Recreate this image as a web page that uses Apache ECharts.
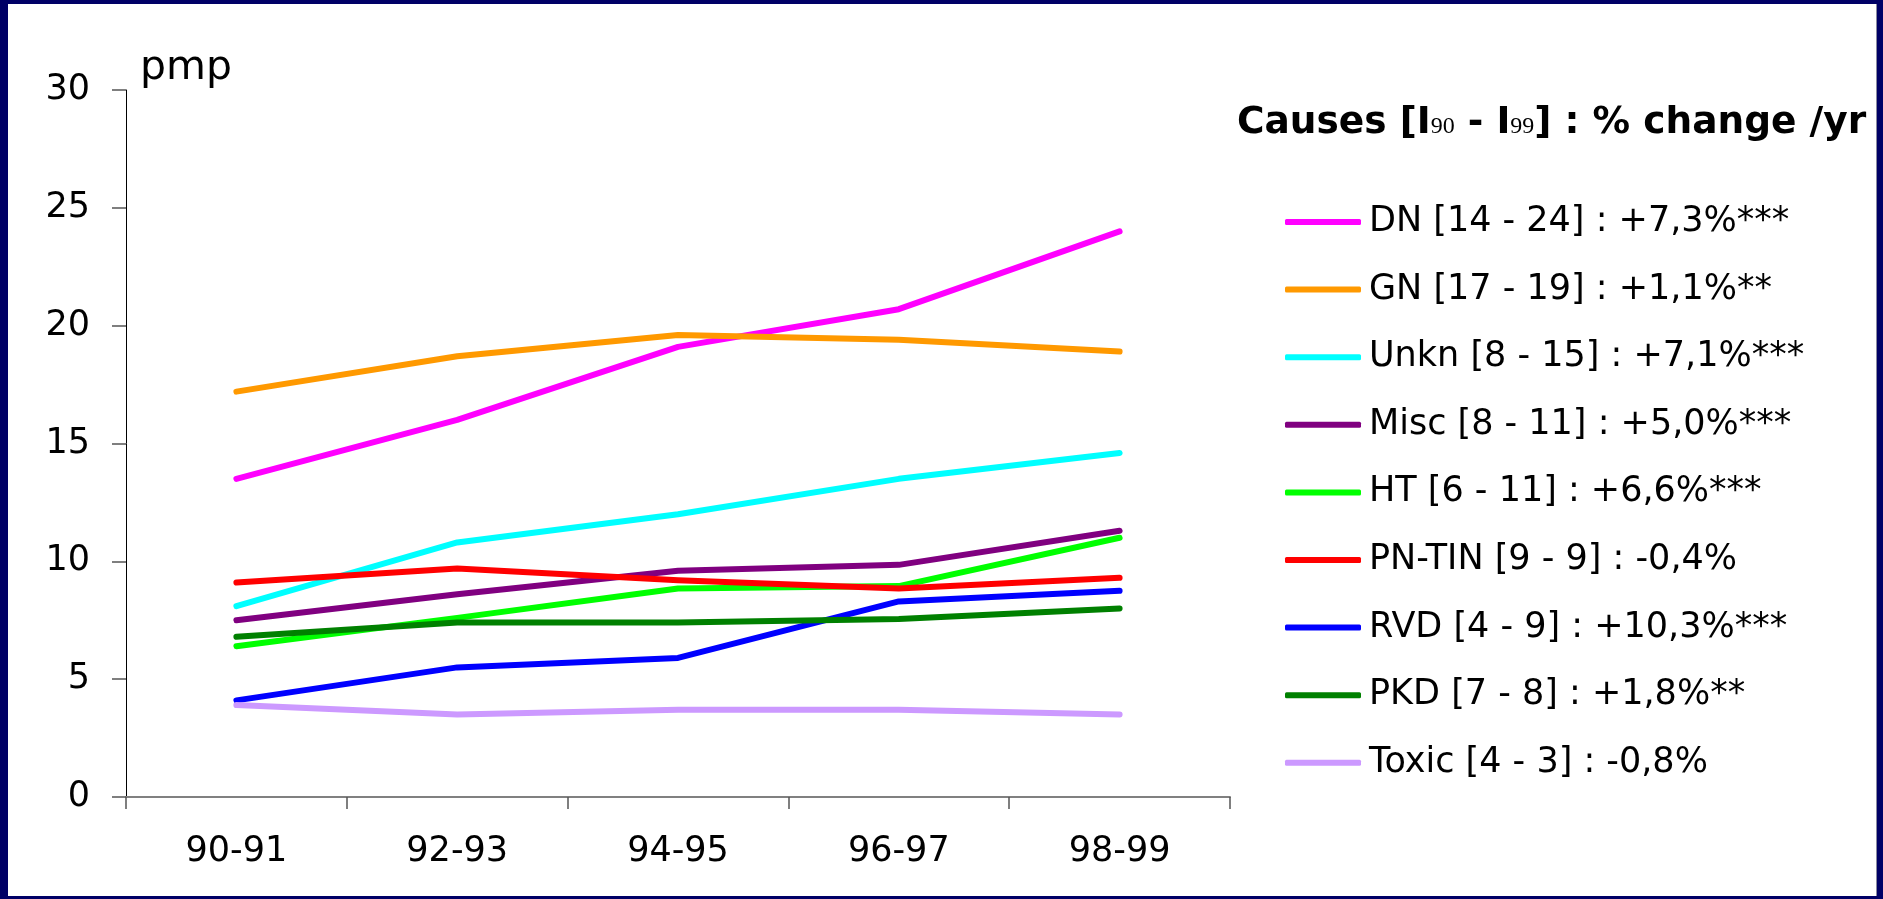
<!DOCTYPE html>
<html>
<head>
<meta charset="utf-8">
<script src="https://cdn.jsdelivr.net/npm/echarts@6/dist/echarts.min.js"></script>
<style>
  html, body { margin: 0; padding: 0; }
  body { width: 1883px; height: 899px; background: #000066; position: relative; overflow: hidden; }
  #paper { position: absolute; left: 8px; top: 4px; width: 1868px; height: 892px; background: #ffffff; border-right: 1px solid #8a8aa0; }
  #chart { position: absolute; left: 0; top: 0; width: 1883px; height: 899px; }
</style>
</head>
<body>
<div id="paper"></div>
<div id="chart"></div>
<script>
// ---- data ----
const categories = ['90-91', '92-93', '94-95', '96-97', '98-99'];
const yTicks = [0, 5, 10, 15, 20, 25, 30];

const seriesNames = [
  'DN [14 - 24] : +7,3%***',
  'GN [17 - 19] : +1,1%**',
  'Unkn [8 - 15] : +7,1%***',
  'Misc [8 - 11] : +5,0%***',
  'HT [6 - 11] : +6,6%***',
  'PN-TIN [9 - 9] : -0,4%',
  'RVD [4 - 9] : +10,3%***',
  'PKD [7 - 8] : +1,8%**',
  'Toxic [4 - 3] : -0,8%'
];

const DN    = [13.5, 16.0, 19.1, 20.7, 24.0];
const GN    = [17.2, 18.7, 19.6, 19.4, 18.9];
const Unkn  = [8.1, 10.8, 12.0, 13.5, 14.6];
const Misc  = [7.5, 8.6, 9.6, 9.85, 11.3];
const HT    = [6.4, 7.6, 8.85, 8.95, 11.0];
const PNTIN = [9.1, 9.7, 9.2, 8.85, 9.3];
const RVD   = [4.1, 5.5, 5.9, 8.3, 8.75];
const PKD   = [6.8, 7.4, 7.4, 7.55, 8.0];
const Toxic = [3.9, 3.5, 3.7, 3.7, 3.5];

const seriesValues = [DN, GN, Unkn, Misc, HT, PNTIN, RVD, PKD, Toxic];
const seriesColors = ['#FF00FF', '#FF9900', '#00FFFF', '#800080', '#00FF00', '#FF0000', '#0000FF', '#008000', '#CC99FF'];

// ---- chart ----
const FONT = '"DejaVu Sans", "Liberation Sans", Arial, sans-serif';
const chart = echarts.init(document.getElementById('chart'), null, { renderer: 'canvas' });

const series = seriesNames.map((name, i) => ({
  name: name,
  type: 'line',
  data: seriesValues[i],
  symbol: 'none',
  showSymbol: false,
  smooth: false,
  animation: false,
  color: seriesColors[i],
  lineStyle: { color: seriesColors[i], width: 6, cap: 'round', join: 'round' },
  emphasis: { disabled: true }
}));

const option = {
  backgroundColor: 'transparent',
  animation: false,
  title: {
    left: 1237,
    top: 101,
    padding: 0,
    text: 'Causes [I{s|90} - I{s|99}] : % change /yr',
    textStyle: {
      fontFamily: FONT,
      fontWeight: 'bold',
      fontSize: 37.5,
      color: '#000000',
      lineHeight: 44,
      rich: {
        s: {
          fontFamily: '"Liberation Serif", "DejaVu Serif", serif',
          fontWeight: 'normal',
          fontSize: 24,
          color: '#000000',
          lineHeight: 44,
          verticalAlign: 'bottom',
          padding: [0, 0, 6, 0]
        }
      }
    }
  },
  legend: {
    orient: 'vertical',
    left: 1285,
    top: 202,
    padding: 0,
    itemGap: 27.6,
    itemWidth: 76,
    itemHeight: 6,
    icon: 'roundRect',
    selectedMode: false,
    data: seriesNames,
    textStyle: {
      fontFamily: FONT,
      fontSize: 35,
      color: '#000000',
      lineHeight: 40,
      padding: [0, 0, 0, 3]
    }
  },
  grid: {
    left: 126,
    right: 653,
    top: 90,
    bottom: 102,
    containLabel: false,
    outerBoundsMode: 'none'
  },
  xAxis: {
    type: 'category',
    data: categories,
    boundaryGap: true,
    axisLine: { show: true, lineStyle: { color: '#808080', width: 2 } },
    axisTick: { show: true, alignWithLabel: false, length: 12, lineStyle: { color: '#555555', width: 1.5 } },
    axisLabel: { fontFamily: FONT, fontSize: 35, color: '#000000', margin: 37 },
    splitLine: { show: false }
  },
  yAxis: {
    type: 'value',
    min: yTicks[0],
    max: yTicks[yTicks.length - 1],
    interval: yTicks[1] - yTicks[0],
    name: 'pmp',
    nameLocation: 'end',
    nameGap: 1,
    nameTextStyle: {
      fontFamily: FONT,
      fontSize: 41,
      color: '#000000',
      align: 'left',
      verticalAlign: 'bottom',
      padding: [0, 0, 0, 14]
    },
    axisLine: { show: true, lineStyle: { color: '#000000', width: 1 } },
    axisTick: { show: true, length: 14, lineStyle: { color: '#555555', width: 1.5 } },
    axisLabel: { fontFamily: FONT, fontSize: 35, color: '#000000', margin: 36 },
    splitLine: { show: false }
  },
  tooltip: { show: false },
  series: series
};

chart.setOption(option);
</script>
</body>
</html>
